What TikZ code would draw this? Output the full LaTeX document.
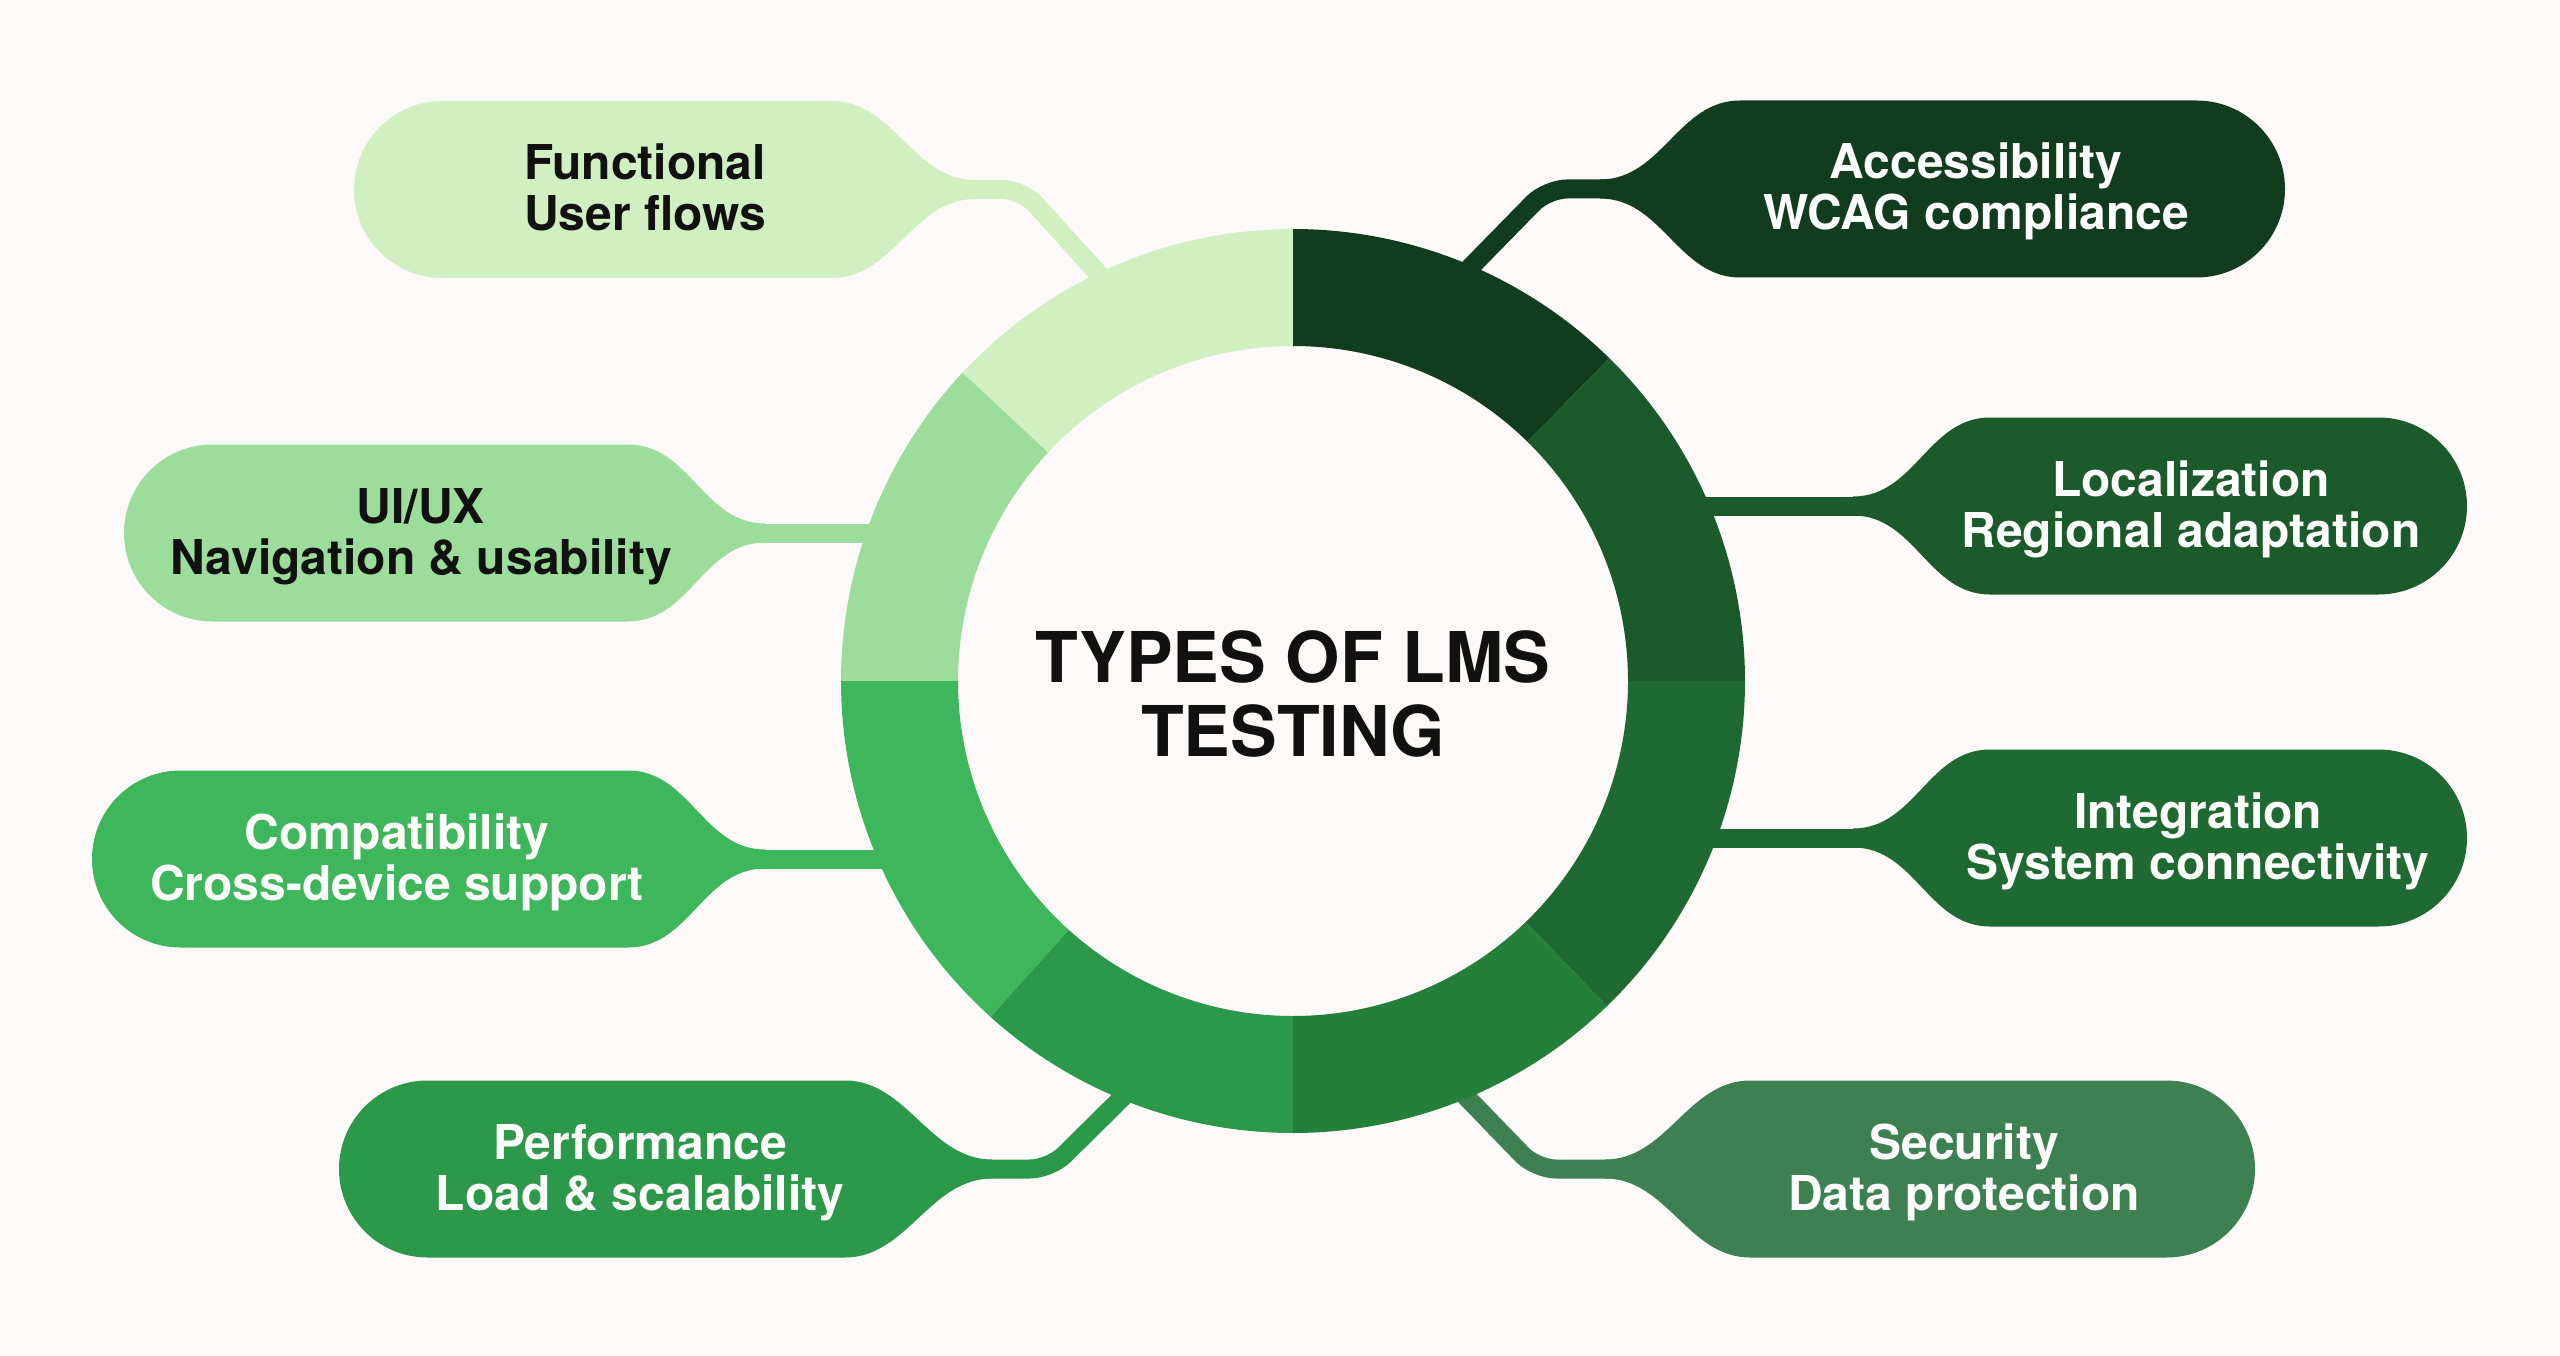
\documentclass[tikz,border=0pt]{standalone}
\usepackage{fontspec}
\setmainfont{TeX Gyre Heros}
\usetikzlibrary{calc}
\definecolor{bg}{HTML}{FDF9F8}
\definecolor{cFun}{HTML}{D1F0C2}
\definecolor{cUI}{HTML}{9CDD9B}
\definecolor{cCom}{HTML}{3DB65C}
\definecolor{cPer}{HTML}{2C984A}
\definecolor{cSecP}{HTML}{3D8152}
\definecolor{cSecR}{HTML}{247F3B}
\definecolor{cInt}{HTML}{1E6A32}
\definecolor{cLoc}{HTML}{1B5A2B}
\definecolor{cAcc}{HTML}{113D1E}
\definecolor{ink}{HTML}{111111}
\definecolor{paper}{HTML}{FFFDFC}
% pill with round end on the left, funnel on the right: colour, L, F, N, cy
\newcommand\lmspillL[5]{%
  \fill[#1] ({#2+88.5},{#5-88.5}) -- (#3,{#5-88.5})
    .. controls ({#3+62},{#5-88.5}) and ({#4-62},{#5-9.5}) .. (#4,{#5-9.5})
    -- (#4,{#5+9.5})
    .. controls ({#4-62},{#5+9.5}) and ({#3+62},{#5+88.5}) .. (#3,{#5+88.5})
    -- ({#2+88.5},{#5+88.5}) arc[start angle=90,end angle=270,radius=88.5] -- cycle;}
% pill with round end on the right, funnel on the left: colour, R, F, N, cy
\newcommand\lmspillR[5]{%
  \fill[#1] (#4,{#5-9.5})
    .. controls ({#4+62},{#5-9.5}) and ({#3-62},{#5-88.5}) .. (#3,{#5-88.5})
    -- ({#2-88.5},{#5-88.5}) arc[start angle=-90,end angle=90,radius=88.5]
    -- (#3,{#5+88.5})
    .. controls ({#3-62},{#5+88.5}) and ({#4+62},{#5+9.5}) .. (#4,{#5+9.5}) -- cycle;}
% ring sector: colour, visual start angle, visual end angle
\newcommand\lmssector[3]{%
  \fill[#1, shift={(ctr)}] (-#2:452) arc[start angle=-#2,end angle=-#3,radius=452]
    -- (-#3:335) arc[start angle=-#3,end angle=-#2,radius=335] -- cycle;}
\tikzset{
  conn/.style={line width=19pt, rounded corners=20pt},
  pilltxt/.style={font=\bfseries\fontsize{48}{51}\selectfont, inner sep=0pt, anchor=base},
  titletxt/.style={font=\bfseries\fontsize{70}{75}\selectfont, text=ink, inner sep=0pt, anchor=base},
}
\begin{document}
\begin{tikzpicture}[x=1pt,y=-1pt]
\fill[bg] (0,0) rectangle (2560,1356);
\useasboundingbox (0,0) rectangle (2560,1356);
\coordinate (ctr) at (1293,681);

% connector coordinates
\coordinate (fun-neck) at (960,189.5);   \coordinate (fun-bend) at (1022,189.5); \coordinate (fun-ring) at (1115,292);
\coordinate (acc-neck) at (1615,189);    \coordinate (acc-bend) at (1547,189);   \coordinate (acc-ring) at (1454,284);
\coordinate (ui-neck) at (750,533);      \coordinate (ui-ring) at (892,533);
\coordinate (loc-neck) at (1868,506);    \coordinate (loc-ring) at (1690,506);
\coordinate (com-neck) at (750,859);     \coordinate (com-ring) at (902,859);
\coordinate (int-neck) at (1868,838);    \coordinate (int-ring) at (1695,838);
\coordinate (per-neck) at (975,1169);    \coordinate (per-bend) at (1050,1169);  \coordinate (per-ring) at (1140,1080);
\coordinate (sec-neck) at (1620,1169);   \coordinate (sec-bend) at (1536,1169);  \coordinate (sec-ring) at (1450,1080);

% connectors
\draw[conn, cFun] (fun-neck) -- (fun-bend) -- (fun-ring);
\draw[conn, cAcc] (acc-neck) -- (acc-bend) -- (acc-ring);
\draw[conn, cUI]  (ui-neck) -- (ui-ring);
\draw[conn, cLoc] (loc-neck) -- (loc-ring);
\draw[conn, cCom] (com-neck) -- (com-ring);
\draw[conn, cInt] (int-neck) -- (int-ring);
\draw[conn, cPer] (per-neck) -- (per-bend) -- (per-ring);
\draw[conn, cSecP] (sec-neck) -- (sec-bend) -- (sec-ring);

% pills
\lmspillL{cFun}{354}{832}{975}{189.5}
\lmspillR{cAcc}{2285}{1740}{1600}{189}
\lmspillL{cUI}{124}{628}{765}{533}
\lmspillR{cLoc}{2467}{1990}{1853}{506}
\lmspillL{cCom}{92}{628}{765}{859}
\lmspillR{cInt}{2467}{1990}{1853}{838}
\lmspillL{cPer}{339}{845}{992}{1169}
\lmspillR{cSecP}{2255}{1750}{1605}{1169}

% ring
\lmssector{cFun}{90}{137}
\lmssector{cUI}{137}{180}
\lmssector{cCom}{180}{228}
\lmssector{cPer}{228}{270}
\lmssector{cSecR}{270}{314}
\lmssector{cInt}{314}{360}
\lmssector{cLoc}{0}{45.6}
\lmssector{cAcc}{45.6}{90}

% texts
\node[titletxt] (title1) at (1293,682) {TYPES OF LMS};
\node[titletxt] (title2) at (1293,756) {TESTING};

\node[pilltxt, text=ink] (fun1) at (645,180) {Functional};
\node[pilltxt, text=ink] (fun2) at (645,231) {User flows};
\node[pilltxt, text=paper] (acc1) at (1976,179) {Accessibility};
\node[pilltxt, text=paper] (acc2) at (1976,230) {WCAG compliance};
\node[pilltxt, text=ink] (ui1) at (421,523) {UI/UX};
\node[pilltxt, text=ink] (ui2) at (421,574) {Navigation \& usability};
\node[pilltxt, text=paper] (loc1) at (2191,496) {Localization};
\node[pilltxt, text=paper] (loc2) at (2191,547) {Regional adaptation};
\node[pilltxt, text=paper] (com1) at (397,849) {Compatibility};
\node[pilltxt, text=paper] (com2) at (397,900) {Cross-device support};
\node[pilltxt, text=paper] (int1) at (2198,828) {Integration};
\node[pilltxt, text=paper] (int2) at (2198,879) {System connectivity};
\node[pilltxt, text=paper] (per1) at (640,1159) {Performance};
\node[pilltxt, text=paper] (per2) at (640,1210) {Load \& scalability};
\node[pilltxt, text=paper] (sec1) at (1964,1159) {Security};
\node[pilltxt, text=paper] (sec2) at (1964,1210) {Data protection};
\end{tikzpicture}
\end{document}
